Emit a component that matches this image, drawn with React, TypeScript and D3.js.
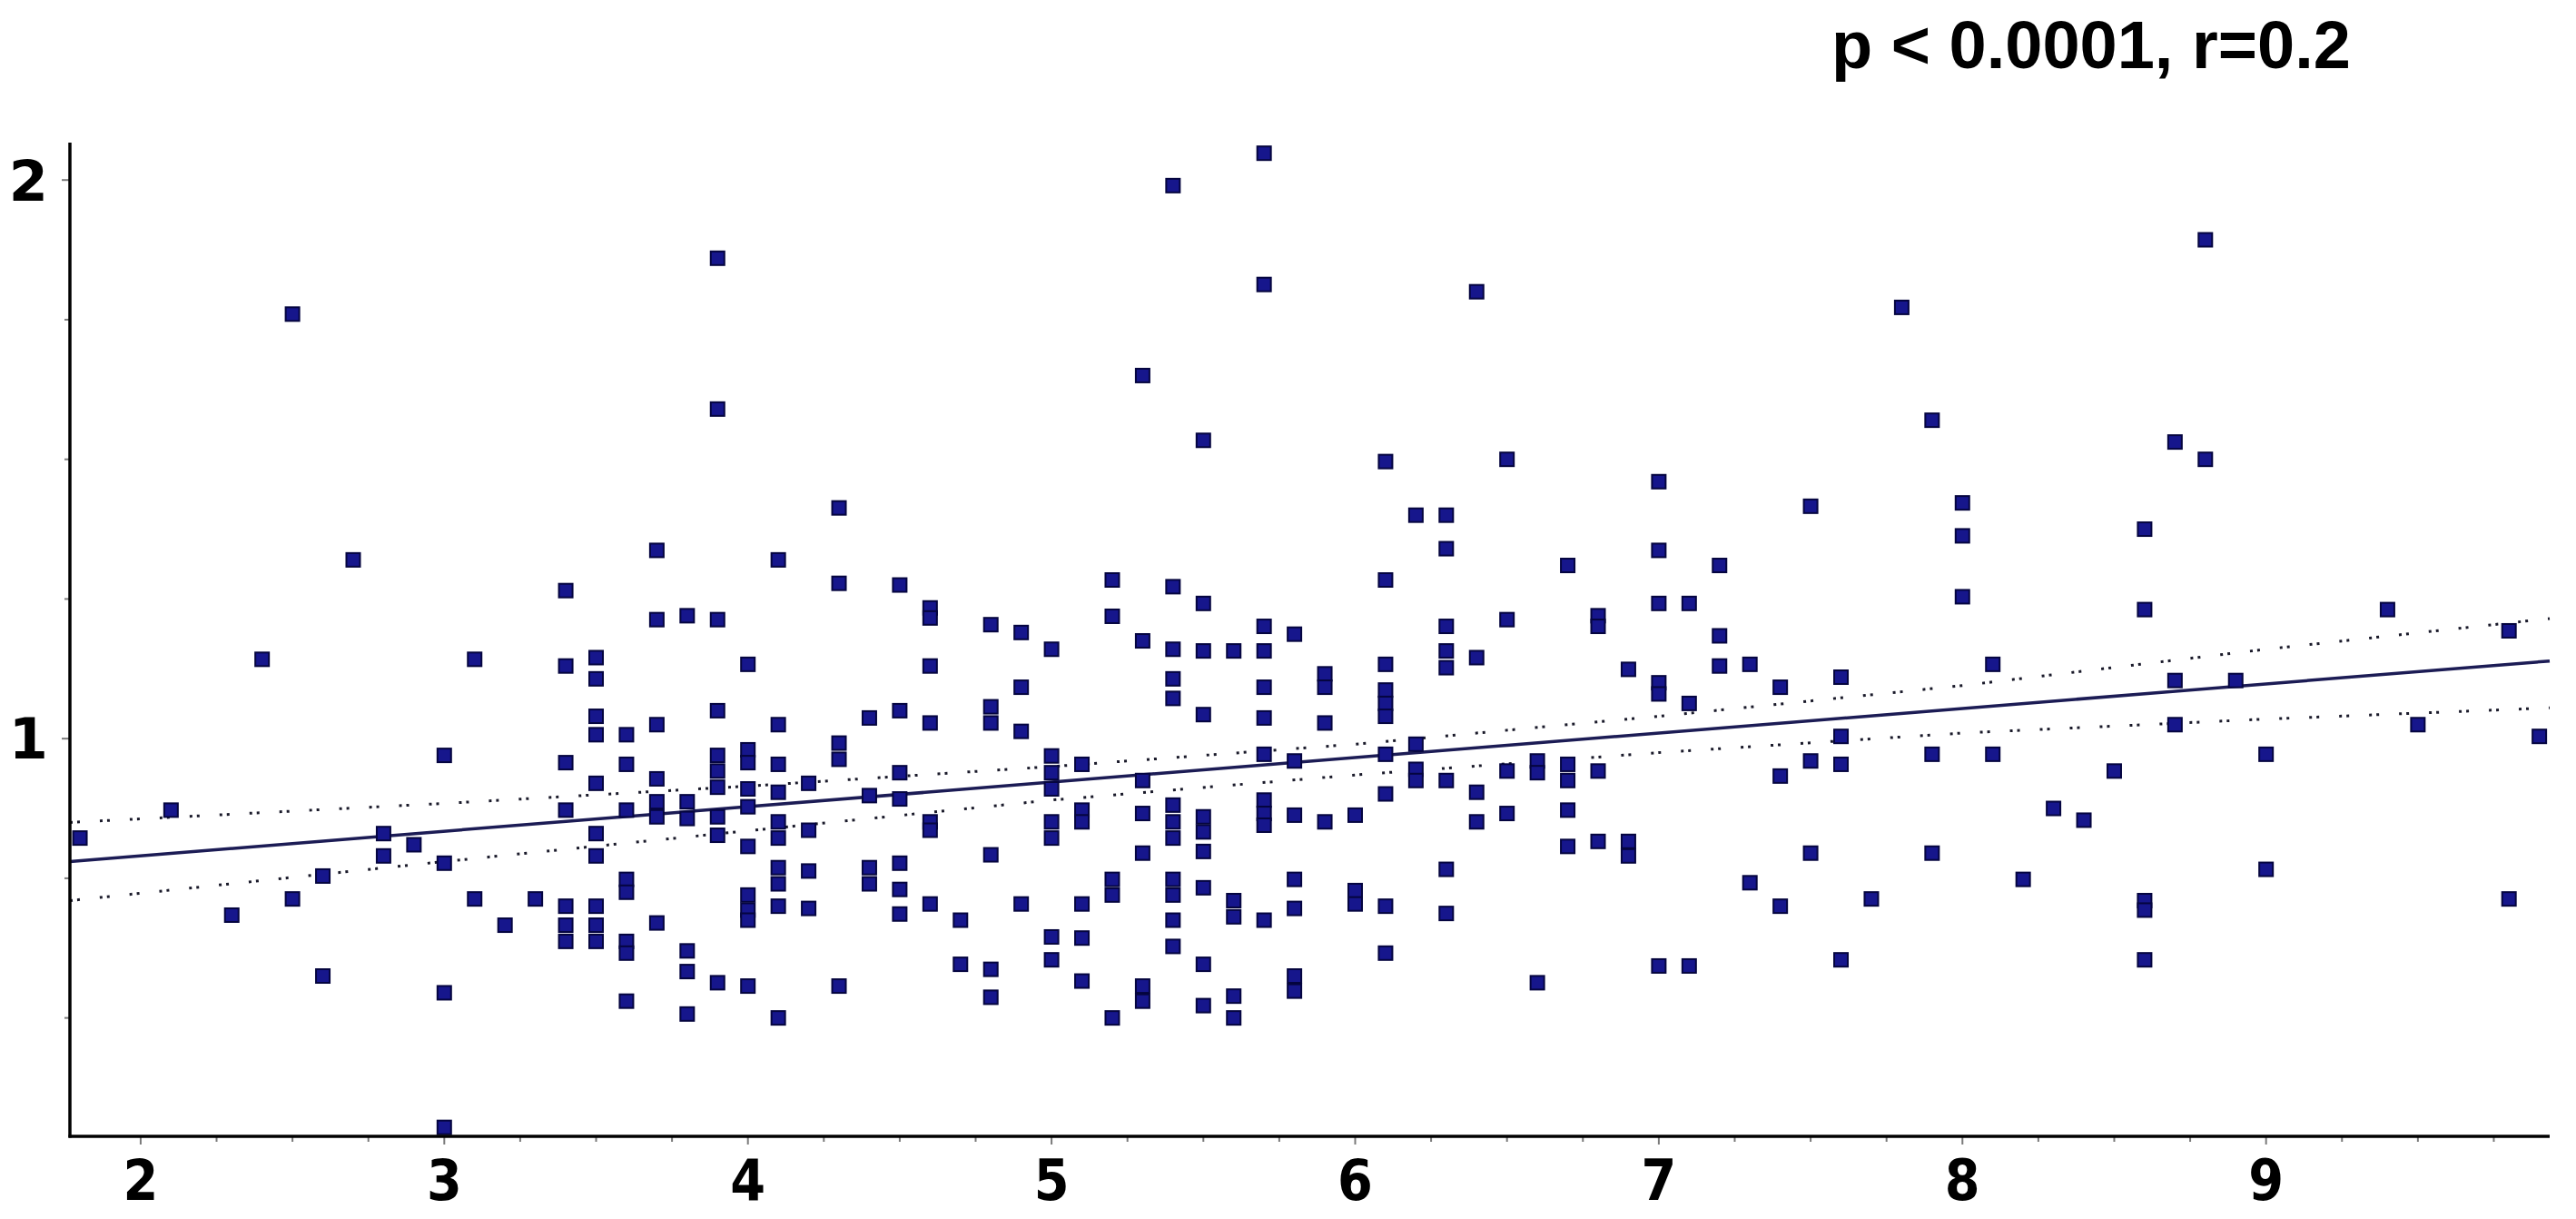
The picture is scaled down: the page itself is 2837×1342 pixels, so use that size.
import React, { useEffect, useRef } from 'react';
import * as d3 from 'd3';

// axis ranges and labels
const xDomain = [1.767, 9.934];
const yDomain = [0.288, 2.067];
const xTickLabels = [2, 3, 4, 5, 6, 7, 8, 9];
const yTickLabels = [1, 2];
const statsLabel = 'p < 0.0001, r=0.2';

// scatter points (x, y), listed column by column
const pointX = [
  1.8, 2.1, 2.3, 2.4, 2.5, 2.5, 2.6, 2.6, 2.7, 2.8, 2.8, 2.9,
  3.0, 3.0, 3.0, 3.0, 3.1, 3.1, 3.2, 3.3,
  3.4, 3.4, 3.4, 3.4, 3.4, 3.4, 3.4,
  3.5, 3.5, 3.5, 3.5, 3.5, 3.5, 3.5, 3.5, 3.5, 3.5,
  3.6, 3.6, 3.6, 3.6, 3.6, 3.6, 3.6, 3.6,
  3.7, 3.7, 3.7, 3.7, 3.7, 3.7, 3.7,
  3.8, 3.8, 3.8, 3.8, 3.8, 3.8,
  3.9, 3.9, 3.9, 3.9, 3.9, 3.9, 3.9, 3.9, 3.9, 3.9,
  4.0, 4.0, 4.0, 4.0, 4.0, 4.0, 4.0, 4.0, 4.0, 4.0,
  4.1, 4.1, 4.1, 4.1, 4.1, 4.1, 4.1, 4.1, 4.1, 4.1,
  4.2, 4.2, 4.2, 4.2,
  4.3, 4.3, 4.3, 4.3, 4.3,
  4.4, 4.4, 4.4, 4.4,
  4.5, 4.5, 4.5, 4.5, 4.5, 4.5, 4.5,
  4.6, 4.6, 4.6, 4.6, 4.6, 4.6, 4.6,
  4.7, 4.7,
  4.8, 4.8, 4.8, 4.8, 4.8, 4.8,
  4.9, 4.9, 4.9, 4.9,
  5.0, 5.0, 5.0, 5.0, 5.0, 5.0, 5.0, 5.0,
  5.1, 5.1, 5.1, 5.1, 5.1, 5.1,
  5.2, 5.2, 5.2, 5.2, 5.2,
  5.3, 5.3, 5.3, 5.3, 5.3, 5.3, 5.3,
  5.4, 5.4, 5.4, 5.4, 5.4, 5.4, 5.4, 5.4, 5.4, 5.4, 5.4, 5.4,
  5.5, 5.5, 5.5, 5.5, 5.5, 5.5, 5.5, 5.5, 5.5, 5.5,
  5.6, 5.6, 5.6, 5.6, 5.6,
  5.7, 5.7, 5.7, 5.7, 5.7, 5.7, 5.7, 5.7, 5.7, 5.7, 5.7,
  5.8, 5.8, 5.8, 5.8, 5.8, 5.8, 5.8,
  5.9, 5.9, 5.9, 5.9,
  6.0, 6.0, 6.0,
  6.1, 6.1, 6.1, 6.1, 6.1, 6.1, 6.1, 6.1, 6.1, 6.1,
  6.2, 6.2, 6.2, 6.2,
  6.3, 6.3, 6.3, 6.3, 6.3, 6.3, 6.3, 6.3,
  6.4, 6.4, 6.4, 6.4,
  6.5, 6.5, 6.5, 6.5,
  6.6, 6.6, 6.6,
  6.7, 6.7, 6.7, 6.7, 6.7,
  6.8, 6.8, 6.8, 6.8,
  6.9, 6.9, 6.9,
  7.0, 7.0, 7.0, 7.0, 7.0, 7.0,
  7.1, 7.1, 7.1,
  7.2, 7.2, 7.2,
  7.3, 7.3,
  7.4, 7.4, 7.4,
  7.5, 7.5, 7.5,
  7.6, 7.6, 7.6, 7.6,
  7.7, 7.8,
  7.9, 7.9, 7.9,
  8.0, 8.0, 8.0,
  8.1, 8.1,
  8.2, 8.3, 8.4, 8.5,
  8.6, 8.6, 8.6, 8.6, 8.6,
  8.7, 8.7, 8.7,
  8.8, 8.8,
  8.9, 9.0, 9.0,
  9.4, 9.5, 9.8, 9.8, 9.9,
];

const pointY = [
  0.822, 0.872, 0.684, 1.142, 1.76, 0.713, 0.754, 0.575, 1.32, 0.83, 0.79, 0.81,
  0.97, 0.777, 0.545, 0.304, 1.142, 0.713, 0.666, 0.713,
  1.265, 1.13, 0.957, 0.872, 0.70, 0.666, 0.637,
  1.145, 1.107, 1.04, 1.007, 0.92, 0.83, 0.79, 0.70, 0.666, 0.637,
  1.007, 0.954, 0.872, 0.748, 0.725, 0.637, 0.616, 0.53,
  1.337, 1.213, 1.025, 0.928, 0.887, 0.86, 0.67,
  1.22, 0.887, 0.857, 0.62, 0.583, 0.507,
  1.86, 1.59, 1.213, 1.05, 0.97, 0.942, 0.913, 0.86, 0.827, 0.563,
  1.133, 0.98, 0.957, 0.91, 0.878, 0.807, 0.72, 0.693, 0.675, 0.557,
  1.32, 1.025, 0.954, 0.904, 0.851, 0.822, 0.769, 0.74, 0.70, 0.50,
  0.92, 0.836, 0.763, 0.696,
  1.413, 1.278, 0.992, 0.963, 0.557,
  1.037, 0.898, 0.769, 0.74,
  1.275, 1.05, 0.939, 0.892, 0.777, 0.73, 0.686,
  1.234, 1.216, 1.13, 1.028, 0.851, 0.836, 0.704,
  0.675, 0.596,
  1.204, 1.057, 1.028, 0.792, 0.587, 0.537,
  1.19, 1.092, 1.013, 0.704,
  1.16, 0.969, 0.939, 0.91, 0.851, 0.822, 0.645, 0.604,
  0.954, 0.872, 0.851, 0.704, 0.643, 0.566,
  1.284, 1.219, 0.748, 0.72, 0.50,
  1.65, 1.175, 0.925, 0.866, 0.795, 0.557, 0.53,
  1.99, 1.272, 1.16, 1.107, 1.072, 0.881, 0.851, 0.822, 0.748, 0.72, 0.675, 0.628,
  1.534, 1.242, 1.157, 1.043, 0.86, 0.833, 0.798, 0.733, 0.596, 0.522,
  1.157, 0.71, 0.681, 0.539, 0.50,
  2.048, 1.813, 1.201, 1.157, 1.092, 1.037, 0.972, 0.89, 0.866, 0.845, 0.675,
  1.187, 0.96, 0.863, 0.748, 0.696, 0.575, 0.548,
  1.116, 1.092, 1.028, 0.851,
  0.863, 0.728, 0.704,
  1.496, 1.284, 1.133, 1.087, 1.063, 1.04, 0.972, 0.901, 0.70, 0.616,
  1.40, 0.99, 0.945, 0.925,
  1.40, 1.34, 1.201, 1.157, 1.127, 0.925, 0.766, 0.687,
  1.80, 1.145, 0.904, 0.851,
  1.50, 1.213, 0.942, 0.866,
  0.96, 0.939, 0.563,
  1.31, 0.954, 0.925, 0.872, 0.807,
  1.22, 1.201, 0.942, 0.816,
  1.124, 0.816, 0.79,
  1.46, 1.337, 1.242, 1.10, 1.08, 0.593,
  1.242, 1.063, 0.593,
  1.31, 1.184, 1.13,
  1.133, 0.742,
  1.092, 0.933, 0.70,
  1.416, 0.96, 0.795,
  1.11, 1.004, 0.954, 0.604,
  0.713, 1.772,
  1.57, 0.972, 0.795,
  1.422, 1.363, 1.254,
  1.133, 0.972,
  0.748, 0.875, 0.854, 0.942,
  1.375, 1.231, 0.71, 0.693, 0.604,
  1.531, 1.104, 1.025,
  1.893, 1.50,
  1.104, 0.972, 0.766,
  1.231, 1.025, 1.193, 0.713, 1.004,
];

// fitted regression line end points
const fitX = [1.767, 9.934];
const fitY = [0.780, 1.139];

// dotted confidence band
const bandX = [1.767, 3, 4, 5, 6, 7, 8, 9, 9.934];
const bandUpper = [0.850, 0.884, 0.915, 0.950, 0.990, 1.040, 1.095, 1.160, 1.215];
const bandLower = [0.710, 0.780, 0.835, 0.890, 0.935, 0.975, 1.010, 1.035, 1.055];

const App = () => {
  const svgRef = useRef<SVGSVGElement>(null);
  const width = 2837;
  const height = 1342;
  const margin = { top: 157, right: 29, bottom: 91, left: 77 };

  useEffect(() => {
    const svg = d3.select(svgRef.current);
    svg.selectAll('*').remove();

    svg.append('rect').attr('width', width).attr('height', height).attr('fill', '#ffffff');

    const x = d3.scaleLinear().domain(xDomain).range([margin.left, width - margin.right]);
    const y = d3.scaleLinear().domain(yDomain).range([height - margin.bottom, margin.top]);

    // confidence band, dotted
    const bandLine = (vals: number[]) =>
      d3.line<number>().x((_, i) => x(bandX[i])).y((d) => y(d))(vals);
    [bandUpper, bandLower].forEach((vals) => {
      svg.append('path')
        .attr('d', bandLine(vals))
        .attr('fill', 'none')
        .attr('stroke', '#1a1a2a')
        .attr('stroke-width', 3)
        .attr('stroke-dasharray', '3 5 3 22');
    });

    // regression line
    svg.append('path')
      .attr('d', d3.line<number>().x((_, i) => x(fitX[i])).y((d) => y(d))(fitY))
      .attr('fill', 'none')
      .attr('stroke', '#1c1c55')
      .attr('stroke-width', 3.5);

    // points
    const size = 15;
    svg.append('g')
      .selectAll('rect')
      .data(pointX.map((v, i) => [v, pointY[i]]))
      .join('rect')
      .attr('x', (d) => x(d[0]) - size / 2)
      .attr('y', (d) => y(d[1]) - size / 2)
      .attr('width', size)
      .attr('height', size)
      .attr('fill', '#16168c')
      .attr('stroke', '#05053f')
      .attr('stroke-width', 2);

    // minor / major ticks
    const xTicks = d3.range(2, 9.8, 0.25);
    svg.append('g')
      .selectAll('line')
      .data(xTicks)
      .join('line')
      .attr('x1', (d) => x(d))
      .attr('x2', (d) => x(d))
      .attr('y1', height - margin.bottom)
      .attr('y2', (d) => height - margin.bottom + (Number.isInteger(d) ? 9 : 6))
      .attr('stroke', '#7a7a7a')
      .attr('stroke-width', 2);

    const yTicks = d3.range(0.5, 2.01, 0.25);
    svg.append('g')
      .selectAll('line')
      .data(yTicks)
      .join('line')
      .attr('y1', (d) => y(d))
      .attr('y2', (d) => y(d))
      .attr('x1', margin.left)
      .attr('x2', (d) => margin.left - (Number.isInteger(d) ? 9 : 6))
      .attr('stroke', '#7a7a7a')
      .attr('stroke-width', 2);

    // axis lines
    svg.append('line')
      .attr('x1', margin.left).attr('x2', margin.left)
      .attr('y1', margin.top).attr('y2', height - margin.bottom + 1.5)
      .attr('stroke', '#000').attr('stroke-width', 3.5);
    svg.append('line')
      .attr('x1', margin.left - 1.5).attr('x2', width - margin.right)
      .attr('y1', height - margin.bottom).attr('y2', height - margin.bottom)
      .attr('stroke', '#000').attr('stroke-width', 3.5);

    // tick labels
    svg.append('g')
      .selectAll('text')
      .data(xTickLabels)
      .join('text')
      .attr('x', (d) => x(d))
      .attr('y', height - 21)
      .attr('text-anchor', 'middle')
      .attr('font-family', '"DejaVu Sans Condensed", "DejaVu Sans", sans-serif')
      .attr('font-stretch', 'condensed')
      .attr('font-weight', 'bold')
      .attr('font-size', 62)
      .attr('fill', '#000')
      .text((d) => d);

    svg.append('g')
      .selectAll('text')
      .data(yTickLabels)
      .join('text')
      .attr('x', 53)
      .attr('y', (d) => y(d))
      .attr('dy', '0.36em')
      .attr('text-anchor', 'end')
      .attr('font-family', '"DejaVu Sans", sans-serif')
      .attr('font-weight', 'bold')
      .attr('font-size', 62)
      .attr('fill', '#000')
      .text((d) => d);

    // statistics label
    svg.append('text')
      .attr('x', 2017)
      .attr('y', 75)
      .attr('font-family', '"Liberation Sans", Arial, sans-serif')
      .attr('font-weight', 'bold')
      .attr('font-size', 74)
      .attr('fill', '#000')
      .text(statsLabel);
  }, []);

  return (
    <svg
      ref={svgRef}
      width={width}
      height={height}
      style={{ position: 'absolute', left: 0, top: 0, display: 'block' }}
    />
  );
};

export default App;
